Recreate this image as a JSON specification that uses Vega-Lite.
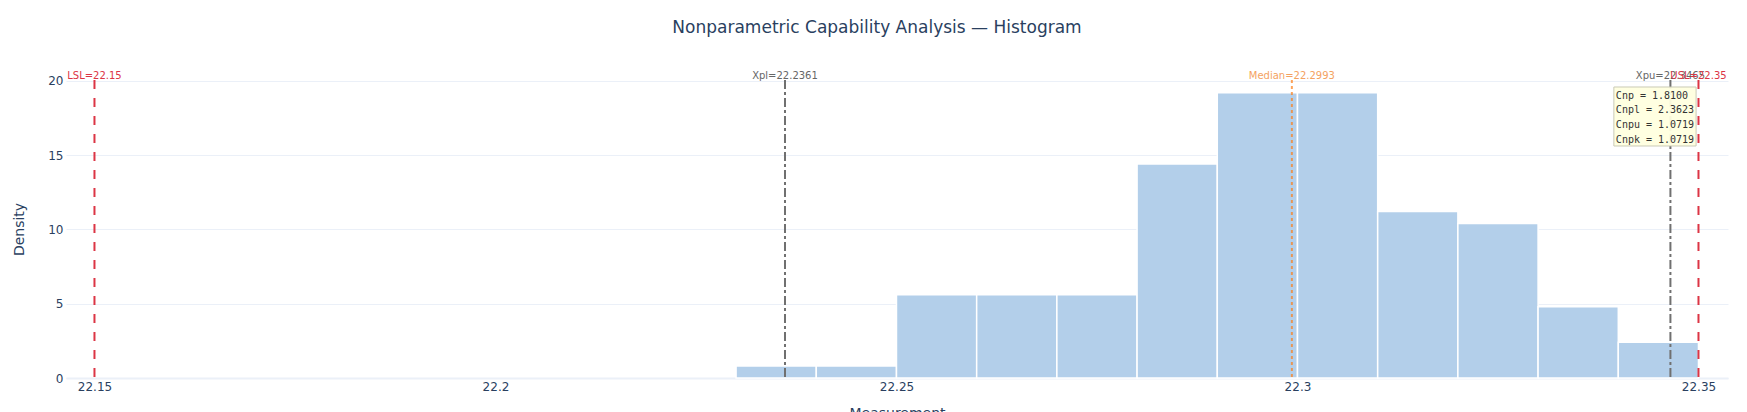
{
  "$schema": "https://vega.github.io/schema/vega-lite/v6.json",
  "width": 1662,
  "height": 298,
  "autosize": {"type": "none"},
  "padding": {"left": 66, "top": 80, "right": 19, "bottom": 34},
  "background": "white",
  "title": {
    "text": "Nonparametric Capability Analysis — Histogram",
    "font": "DejaVu Sans",
    "fontSize": 17,
    "fontWeight": "normal",
    "color": "#2a3f5f",
    "anchor": "middle",
    "frame": "group",
    "dx": -20,
    "offset": 34
  },
  "datasets": {
    "bins": [
      {"start": 22.23, "end": 22.24, "density": 0.8},
      {"start": 22.24, "end": 22.25, "density": 0.8},
      {"start": 22.25, "end": 22.26, "density": 5.6},
      {"start": 22.26, "end": 22.27, "density": 5.6},
      {"start": 22.27, "end": 22.28, "density": 5.6},
      {"start": 22.28, "end": 22.29, "density": 14.4},
      {"start": 22.29, "end": 22.30, "density": 19.2},
      {"start": 22.30, "end": 22.31, "density": 19.2},
      {"start": 22.31, "end": 22.32, "density": 11.2},
      {"start": 22.32, "end": 22.33, "density": 10.4},
      {"start": 22.33, "end": 22.34, "density": 4.8},
      {"start": 22.34, "end": 22.35, "density": 2.4}
    ],
    "lines": [
      {"name": "LSL", "kind": "spec", "value": 22.15, "label": "LSL=22.15"},
      {"name": "Xpl", "kind": "pct", "value": 22.2361, "label": "Xpl=22.2361"},
      {"name": "Median", "kind": "median", "value": 22.2993, "label": "Median=22.2993"},
      {"name": "Xpu", "kind": "pct", "value": 22.3465, "label": "Xpu=22.3465"},
      {"name": "USL", "kind": "spec", "value": 22.35, "label": "USL=22.35"}
    ]
  },
  "layer": [
    {
      "data": {"name": "bins"},
      "mark": {"type": "rect", "fill": "#b3cfea", "stroke": "white", "strokeWidth": 1.5},
      "encoding": {
        "x": {
          "field": "start", "type": "quantitative",
          "scale": {"domain": [22.14645, 22.35368], "nice": false, "zero": false},
          "axis": {
            "title": "Measurement",
            "values": [22.15, 22.2, 22.25, 22.3, 22.35],
            "format": ".2~f",
            "grid": false,
            "ticks": false,
            "tickSize": 0,
            "domain": true,
            "domainColor": "#ebf0f8",
            "domainWidth": 2,
            "labelPadding": 3,
            "labelFont": "DejaVu Sans",
            "labelFontSize": 12,
            "labelColor": "#2a3f5f",
            "labelFlush": false,
            "titleFont": "DejaVu Sans",
            "titleFontSize": 14,
            "titleFontWeight": "normal",
            "titleColor": "#2a3f5f",
            "titlePadding": 14
          }
        },
        "x2": {"field": "end"},
        "y": {
          "field": "density", "type": "quantitative",
          "scale": {"domain": [0, 20.05], "nice": false},
          "axis": {
            "title": "Density",
            "values": [0, 5, 10, 15, 20],
            "grid": true,
            "gridColor": "#ebf0f8",
            "gridWidth": 1,
            "domain": false,
            "ticks": false,
            "tickSize": 0,
            "labelPadding": 3,
            "labelFont": "DejaVu Sans",
            "labelFontSize": 12,
            "labelColor": "#2a3f5f",
            "titleFont": "DejaVu Sans",
            "titleFontSize": 14,
            "titleFontWeight": "normal",
            "titleColor": "#2a3f5f",
            "titlePadding": 21
          }
        },
        "y2": {"datum": 0}
      }
    },
    {
      "data": {"name": "lines"},
      "transform": [{"filter": "datum.kind === 'spec'"}],
      "mark": {"type": "rule", "color": "#dc3545", "strokeWidth": 2, "strokeDash": [9, 9]},
      "encoding": {"x": {"field": "value", "type": "quantitative"}}
    },
    {
      "data": {"name": "lines"},
      "transform": [{"filter": "datum.kind === 'pct'"}],
      "mark": {"type": "rule", "color": "#707070", "strokeWidth": 2, "strokeDash": [9, 3, 3, 3]},
      "encoding": {"x": {"field": "value", "type": "quantitative"}}
    },
    {
      "data": {"name": "lines"},
      "transform": [{"filter": "datum.kind === 'median'"}],
      "mark": {"type": "rule", "color": "#fd7e14", "opacity": 0.7, "strokeWidth": 2, "strokeDash": [3, 3]},
      "encoding": {"x": {"field": "value", "type": "quantitative"}}
    },
    {
      "data": {"name": "lines"},
      "mark": {"type": "text", "font": "DejaVu Sans", "fontSize": 10, "align": "center", "baseline": "bottom", "dy": 1},
      "encoding": {
        "x": {"field": "value", "type": "quantitative"},
        "y": {"datum": 20.05},
        "text": {"field": "label"},
        "color": {
          "field": "kind", "type": "nominal",
          "scale": {"domain": ["spec", "pct", "median"], "range": ["#dc3545", "#666666", "#f4a261"]},
          "legend": null
        }
      }
    },
    {
      "data": {"values": [{"box": "stats"}]},
      "mark": {"type": "rect", "fill": "#ffffe0", "stroke": "#c8c8b4", "strokeWidth": 1, "opacity": 0.95},
      "encoding": {
        "x": {"datum": 22.33945},
        "x2": {"datum": 22.3497},
        "y": {"datum": 19.58},
        "y2": {"datum": 15.61}
      }
    },
    {
      "data": {"values": [{"text": "Cnp = 1.8100\nCnpl = 2.3623\nCnpu = 1.0719\nCnpk = 1.0719"}]},
      "mark": {"type": "text", "font": "DejaVu Sans Mono", "fontSize": 10, "align": "left", "baseline": "middle", "lineBreak": "\n", "lineHeight": 14.7, "color": "#333333", "dx": 2},
      "encoding": {
        "x": {"datum": 22.33945},
        "y": {"datum": 19.0},
        "text": {"field": "text"}
      }
    }
  ],
  "config": {"view": {"stroke": null}}
}
